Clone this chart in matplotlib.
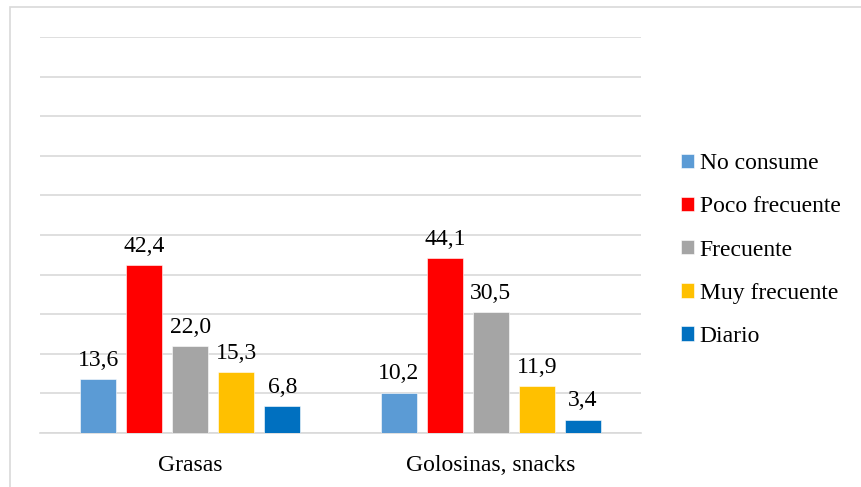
import numpy as np
import matplotlib
matplotlib.use("Agg")
import matplotlib.pyplot as plt
from matplotlib.patches import Rectangle

categories = ["Grasas", "Golosinas, snacks"]
series_names = ["No consume", "Poco frecuente", "Frecuente", "Muy frecuente", "Diario"]
no_consume = [13.6, 10.2]
poco_frecuente = [42.4, 44.1]
frecuente = [22.0, 30.5]
muy_frecuente = [15.3, 11.9]
diario = [6.8, 3.4]
colors = ["#5b9bd5", "#ff0000", "#a5a5a5", "#ffc000", "#0070c0"]

plt.rcParams["font.family"] = ["Liberation Serif", "DejaVu Serif"]

fig = plt.figure(figsize=(8.62, 4.87), dpi=100)
# outer chart frame
fig.patches.append(Rectangle((10 / 862, -0.05), 1.0, 1 - 7 / 487 + 0.05,
                             transform=fig.transFigure, fill=False,
                             edgecolor="#d9d9d9", linewidth=1.2))

ax = fig.add_axes([40 / 862, 54 / 487, 601 / 862, 396 / 487])

values = [no_consume, poco_frecuente, frecuente, muy_frecuente, diario]
x = np.arange(len(categories))
width = 0.12
step = 0.153
fs = 17
for i, (name, vals, c) in enumerate(zip(series_names, values, colors)):
    pos = x + (i - 2) * step
    bars = ax.bar(pos, vals, width, color=c, label=name, zorder=3,
                  edgecolor="white", linewidth=0.4)
    for b, v in zip(bars, vals):
        ax.annotate(f"{v:.1f}".replace(".", ","),
                    (b.get_x() + b.get_width() / 2, v),
                    xytext=(0, 6), textcoords="offset points",
                    ha="center", va="bottom", fontsize=fs)

ax.set_xlim(-0.5, 1.5)
ax.set_ylim(0, 100)
ax.set_yticks(np.arange(0, 101, 10))
ax.yaxis.grid(True, color="#d9d9d9", linewidth=1.2, zorder=0)
ax.tick_params(axis="y", left=False, labelleft=False)
ax.tick_params(axis="x", length=0, labelsize=fs, pad=16)
ax.set_xticks(x)
ax.set_xticklabels(categories)
for s in ["top", "right", "left"]:
    ax.spines[s].set_visible(False)
ax.spines["bottom"].set_color("#d9d9d9")
ax.spines["bottom"].set_linewidth(1.2)

ax.legend(loc="center left", bbox_to_anchor=(1.032, 0.462), frameon=False,
          fontsize=fs, handlelength=0.55, handleheight=0.55,
          handletextpad=0.22, labelspacing=0.94)

fig.savefig("out.png", dpi=100)
plt.close(fig)
